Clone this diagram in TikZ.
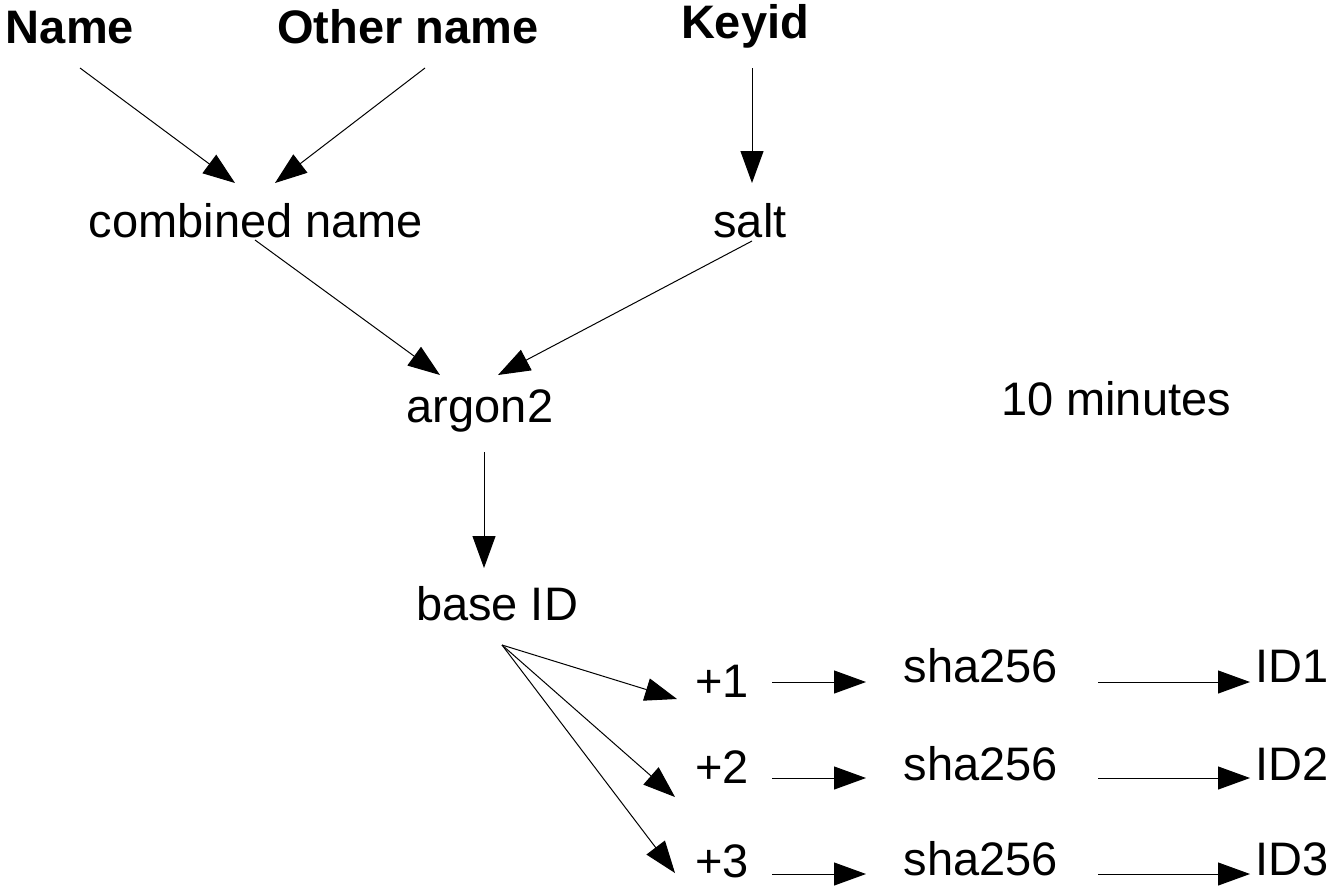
\documentclass[tikz,border=0pt]{standalone}
\usepackage{fontspec}
\setmainfont{Liberation Sans}
\usetikzlibrary{calc,arrows.meta}
\begin{document}
\begin{tikzpicture}[x=1pt,y=-1pt,
  lbl/.style={inner sep=0pt,anchor=base,font=\fontsize{47}{56}\selectfont},
  hdr/.style={lbl,font=\fontsize{47}{56}\selectfont\bfseries},
  arr/.style={line width=1pt,-{Triangle[length=32pt,width=23pt]}}]
\useasboundingbox (0,0) rectangle (1329,887);
% inputs
\node[hdr] (name)  at (70,43)  {Name};
\node[hdr] (other) at (408,43) {Other name};
\node[hdr] (keyid) at (745,38) {Keyid};
% intermediate values
\node[lbl] (comb)  at (256,237) {combined name};
\node[lbl] (salt)  at (750,237) {salt};
\node[lbl] (argon) at (480,422) {argon2};
\node[lbl] (mins)  at (1116,415) {10 minutes};
\node[lbl] (base)  at (497,620) {base ID};
% derived ids
\node[lbl] (p1) at (722,697) {+1};
\node[lbl] (p2) at (722,783) {+2};
\node[lbl] (p3) at (722,877) {+3};
\node[lbl] (s1) at (981,682) {sha256};
\node[lbl] (s2) at (981,780) {sha256};
\node[lbl] (s3) at (981,875) {sha256};
\node[lbl] (id1) at (1292,682) {ID1};
\node[lbl] (id2) at (1292,780) {ID2};
\node[lbl] (id3) at (1292,875) {ID3};
% connectors
\draw[arr] ($(name.base)+(10,25)$)  -- ($(comb.base)+(-21,-54)$);
\draw[arr] ($(other.base)+(17,25)$) -- ($(comb.base)+(19,-54)$);
\draw[arr] ($(keyid.base)+(7,30)$)  -- ($(salt.base)+(2,-54)$);
\draw[arr] ($(comb.base)+(-1,3)$)   -- ($(argon.base)+(-40,-47)$);
\draw[arr] ($(salt.base)+(2,4)$)    -- ($(argon.base)+(18,-47)$);
\draw[arr] ($(argon.base)+(4,30)$)  -- ($(base.base)+(-13,-52)$);
\draw[arr] ($(base.base)+(5,25)$)   -- ($(p1.base)+(-45,2)$);
\draw[arr] ($(base.base)+(5,25)$)   -- ($(p2.base)+(-47,14)$);
\draw[arr] ($(base.base)+(5,25)$)   -- ($(p3.base)+(-47,-4)$);
\draw[arr] ($(p1.base)+(50,-15)$)   -- ($(s1.base)+(-115,0)$);
\draw[arr] ($(p2.base)+(50,-5)$)    -- ($(s2.base)+(-115,-2)$);
\draw[arr] ($(p3.base)+(50,-3)$)    -- ($(s3.base)+(-115,-1)$);
\draw[arr] ($(s1.base)+(117,0)$)    -- ($(id1.base)+(-42,0)$);
\draw[arr] ($(s2.base)+(117,-2)$)   -- ($(id2.base)+(-42,-2)$);
\draw[arr] ($(s3.base)+(117,-1)$)   -- ($(id3.base)+(-42,-1)$);
\end{tikzpicture}
\end{document}
